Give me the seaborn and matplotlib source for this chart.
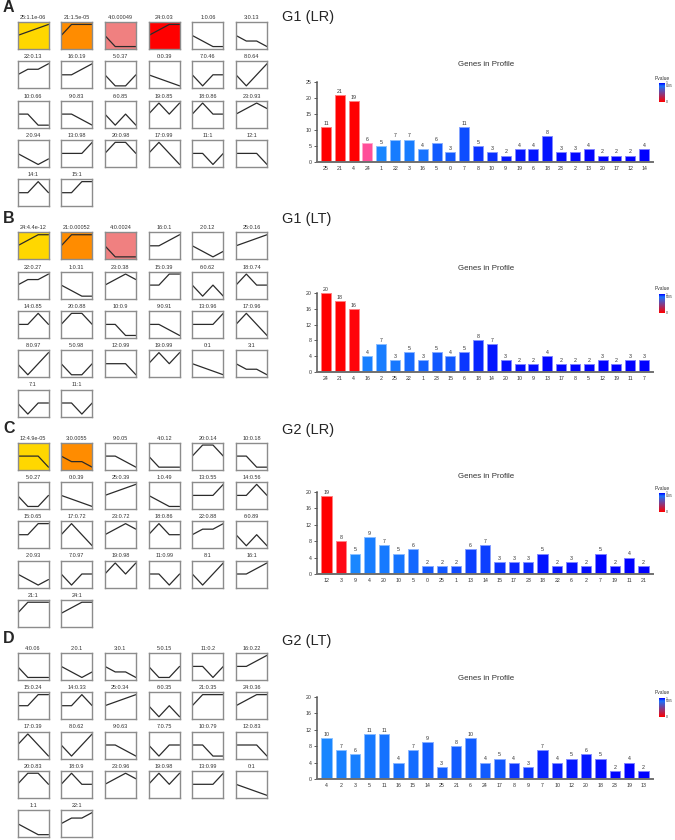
import numpy as np
import matplotlib
matplotlib.use("Agg")
import matplotlib.pyplot as plt
import seaborn as sns
import pandas as pd

sns.set_theme(style="white")
plt.rcParams['font.family'] = ['Liberation Sans', 'DejaVu Sans']

# ---------------- data ----------------
# STEM model profile shapes (expression at 4 time points)
profile_shapes = {
    0: (0, -1, -2, -3), 1: (0, -1, -2, -2), 2: (0, -1, -2, -1), 3: (0, -1, -1, -2),
    4: (0, -1, -1, -1), 5: (0, -1, -1, 0), 6: (0, -1, 0, -1), 7: (0, -1, 0, 0),
    8: (0, -1, 0, 1), 9: (0, 0, -1, -2), 10: (0, 0, -1, -1), 11: (0, 0, -1, 0),
    12: (0, 0, 0, -1), 13: (0, 0, 0, 1), 14: (0, 0, 1, 0), 15: (0, 0, 1, 1),
    16: (0, 0, 1, 2), 17: (0, 1, 0, -1), 18: (0, 1, 0, 0), 19: (0, 1, 0, 1),
    20: (0, 1, 1, 0), 21: (0, 1, 1, 1), 22: (0, 1, 1, 2), 23: (0, 1, 2, 1),
    24: (0, 1, 2, 2), 25: (0, 1, 2, 3),
}

A_ids = [25, 21, 4, 24, 1, 3, 22, 16, 5, 0, 7, 8, 10, 9, 6, 19, 18, 23, 2, 13, 20, 17, 11, 12, 14, 15]
A_pv = ["1.1e-06", "1.5e-05", "0.00049", "0.03", "0.06", "0.13", "0.13", "0.19", "0.37", "0.39",
        "0.46", "0.64", "0.66", "0.83", "0.85", "0.85", "0.86", "0.93", "0.94", "0.98", "0.98",
        "0.99", "1", "1", "1", "1"]
A_bar_ids = [25, 21, 4, 24, 1, 22, 3, 16, 5, 0, 7, 8, 10, 9, 19, 6, 18, 23, 2, 13, 20, 17, 12, 14]
A_genes = [11, 21, 19, 6, 5, 7, 7, 4, 6, 3, 11, 5, 3, 2, 4, 4, 8, 3, 3, 4, 2, 2, 2, 4]

B_ids = [24, 21, 4, 16, 2, 25, 22, 1, 23, 15, 6, 18, 14, 20, 10, 9, 13, 17, 8, 5, 12, 19, 0, 3, 7, 11]
B_pv = ["4.4e-12", "0.00052", "0.0024", "0.1", "0.12", "0.16", "0.27", "0.31", "0.38", "0.39",
        "0.62", "0.74", "0.85", "0.88", "0.9", "0.91", "0.96", "0.96", "0.97", "0.98", "0.99",
        "0.99", "1", "1", "1", "1"]
B_bar_ids = [24, 21, 4, 16, 2, 25, 22, 1, 23, 15, 6, 18, 14, 20, 10, 9, 13, 17, 8, 5, 12, 19, 11, 7]
B_genes = [20, 18, 16, 4, 7, 3, 5, 3, 5, 4, 5, 8, 7, 3, 2, 2, 4, 2, 2, 2, 3, 2, 3, 3]

C_ids = [12, 3, 9, 4, 20, 10, 5, 0, 25, 1, 13, 14, 15, 17, 23, 18, 22, 6, 2, 7, 19, 11, 8, 16, 21, 24]
C_pv = ["4.9e-05", "0.0055", "0.05", "0.12", "0.14", "0.18", "0.27", "0.39", "0.39", "0.49",
        "0.55", "0.56", "0.65", "0.72", "0.72", "0.86", "0.88", "0.89", "0.93", "0.97", "0.98",
        "0.99", "1", "1", "1", "1"]
C_bar_ids = [12, 3, 9, 4, 20, 10, 5, 0, 25, 1, 13, 14, 15, 17, 23, 18, 22, 6, 2, 7, 19, 11, 21]
C_genes = [19, 8, 5, 9, 7, 5, 6, 2, 2, 2, 6, 7, 3, 3, 3, 5, 2, 3, 2, 5, 2, 4, 2]

D_ids = [4, 2, 3, 5, 11, 16, 15, 14, 25, 6, 21, 24, 17, 8, 9, 7, 10, 12, 20, 18, 23, 19, 13, 0, 1, 22]
D_pv = ["0.06", "0.1", "0.1", "0.15", "0.2", "0.22", "0.24", "0.33", "0.34", "0.35", "0.35",
        "0.36", "0.39", "0.62", "0.63", "0.75", "0.79", "0.83", "0.83", "0.9", "0.96", "0.98",
        "0.99", "1", "1", "1"]
D_bar_ids = [4, 2, 3, 5, 11, 16, 15, 14, 25, 21, 6, 24, 17, 8, 9, 7, 10, 12, 20, 18, 23, 19, 13]
D_genes = [10, 7, 6, 11, 11, 4, 7, 9, 3, 8, 10, 4, 5, 4, 3, 7, 4, 5, 6, 5, 2, 4, 2]

panel_letters = ["A", "B", "C", "D"]
panel_titles = ["G1 (LR)", "G1 (LT)", "G2 (LR)", "G2 (LT)"]
chart_title = "Genes in Profile"
panels = [
    (A_ids, A_pv, A_bar_ids, A_genes, 25, 5),
    (B_ids, B_pv, B_bar_ids, B_genes, 20, 4),
    (C_ids, C_pv, C_bar_ids, C_genes, 20, 4),
    (D_ids, D_pv, D_bar_ids, D_genes, 20, 4),
]

# ---------------- styling ----------------
highlight_colors = ["#FFD700", "#FF8C00", "#F08080", "#FF0000"]
W, H = 675, 840
fig = plt.figure(figsize=(6.75, 8.4), dpi=100)
fig.patch.set_facecolor("white")


def rect(x0, y0, x1, y1):
    return [x0 / W, 1 - y1 / H, (x1 - x0) / W, (y1 - y0) / H]


def lerp(c0, c1, t):
    return tuple(a + (b - a) * t for a, b in zip(c0, c1))


def pcolor(p):
    if p < 0.05:
        stops = [(0.0, (1, 0, 0)), (0.01, (1, 0.06, 0.16)), (0.03, (1, 0.31, 0.6)),
                 (0.05, (0.55, 0.35, 0.85))]
        for (p0, c0), (p1, c1) in zip(stops[:-1], stops[1:]):
            if p <= p1:
                return lerp(c0, c1, (p - p0) / (p1 - p0))
        return stops[-1][1]
    t = (p - 0.05) / 0.95
    return lerp((0.1, 0.53, 1.0), (0.0, 0.0, 1.0), t)


def cbar_color(pos):
    # pos 0 (bottom) -> 1 (top); 0.05 sits near the top
    if pos < 0.85:
        return lerp((1, 0, 0), (0.1, 0.45, 1.0), pos / 0.85)
    return lerp((0.1, 0.45, 1.0), (0, 0, 1), (pos - 0.85) / 0.15)


col_left = [17.5 + 43.7 * c for c in range(6)]
box_w, box_h = 31, 27
bar_tops = [82, 293, 492, 697]
bar_bottoms = [162, 372, 574, 779]
title_y = [17, 219, 430, 641]
chart_title_y = [64, 268, 476, 678]

for k, (ids, pv, bar_ids, genes, ymax, ystep) in enumerate(panels):
    base = 22 + 210.3 * k
    pvals = {i: float(s) for i, s in zip(ids, pv)}
    # panel letter
    fig.text(3 / W, 1 - (8 + 210.3 * k) / H, panel_letters[k], fontsize=11.5,
             fontweight="bold", va="center", ha="left")
    # small multiples
    n_sig = 0
    for j, (pid, ps) in enumerate(zip(ids, pv)):
        r, c = divmod(j, 6)
        top = base + 39.3 * r
        ax = fig.add_axes(rect(col_left[c], top, col_left[c] + box_w, top + box_h))
        vals = np.array(profile_shapes[pid], dtype=float)
        vals = vals / np.max(np.abs(vals))
        if float(ps) < 0.05:
            ax.set_facecolor(highlight_colors[n_sig])
            n_sig += 1
        sns.lineplot(x=[0, 1, 2, 3], y=vals, ax=ax, color="#2b2b2b", lw=0.9)
        ax.set_xlim(0, 3)
        ax.set_ylim(-1.22, 1.22)
        ax.set_xticks([])
        ax.set_yticks([])
        ax.set_xlabel("")
        ax.set_ylabel("")
        for s in ax.spines.values():
            s.set_color("#8c8c8c")
            s.set_linewidth(1.0)
            s.set_visible(True)
        ax.set_title(f"{pid}:{ps}", fontsize=4, pad=2.2, color="#333333")

    # bar chart
    fig.text(282 / W, 1 - title_y[k] / H, panel_titles[k], fontsize=10.5, va="center", ha="left")
    axb = fig.add_axes(rect(317, bar_tops[k], 653, bar_bottoms[k]))
    labels = [str(i) for i in bar_ids]
    df = pd.DataFrame({"profile": labels, "genes": genes})
    palette = {str(i): pcolor(pvals[i]) for i in bar_ids}
    sns.barplot(data=df, x="profile", y="genes", hue="profile", order=labels, hue_order=labels,
                palette=palette, dodge=False, legend=False, width=0.72, saturation=1, ax=axb)
    for patch in axb.patches:
        fc = patch.get_facecolor()[:3]
        patch.set_edgecolor(lerp(fc, (1, 1, 1), 0.5))
        patch.set_linewidth(0.7)
    for cont in axb.containers:
        axb.bar_label(cont, fontsize=3.8, padding=0.8, color="#333333")
    n = len(labels)
    axb.set_xlim(-0.65, n - 0.35)
    axb.set_ylim(0, ymax)
    axb.set_yticks(np.arange(0, ymax + 1, ystep))
    axb.tick_params(axis="y", labelsize=3.8, length=2, width=0.6, color="#444444",
                    labelcolor="#333333", pad=2, left=True)
    axb.tick_params(axis="x", labelsize=3.8, length=0, labelcolor="#333333", pad=3)
    axb.set_xlabel("")
    axb.set_ylabel("")
    axb.set_facecolor("white")
    for side in ["top", "right"]:
        axb.spines[side].set_visible(False)
    axb.spines["left"].set_color("#555555")
    axb.spines["left"].set_linewidth(1.1)
    axb.spines["bottom"].set_color("#707070")
    axb.spines["bottom"].set_linewidth(1.4)
    fig.text(486 / W, 1 - chart_title_y[k] / H, chart_title, fontsize=5.7, ha="center",
             va="center", color="#333333")

    # P-value colour legend
    t0 = bar_tops[k] + 1
    cax = fig.add_axes(rect(659, t0, 665, t0 + 19))
    pos = np.linspace(0, 1, 100)
    grad = np.array([cbar_color(p) for p in pos]).reshape(-1, 1, 3)
    cax.imshow(grad, aspect="auto", origin="lower", extent=[0, 1, 0, 1])
    cax.set_axis_off()
    fig.text(662 / W, 1 - (t0 - 5) / H, "Pvalue", fontsize=3.5, ha="center", va="center",
             color="#333333")
    fig.text(665.5 / W, 1 - (t0 + 0.5) / H, "1", fontsize=2.5, ha="left", va="center", color="#333333")
    fig.text(665.5 / W, 1 - (t0 + 3) / H, "0.05", fontsize=2.5, ha="left", va="center", color="#333333")
    fig.text(665.5 / W, 1 - (t0 + 19) / H, "0", fontsize=2.5, ha="left", va="center", color="#333333")

fig.savefig("out.png", dpi=100, facecolor="white")
